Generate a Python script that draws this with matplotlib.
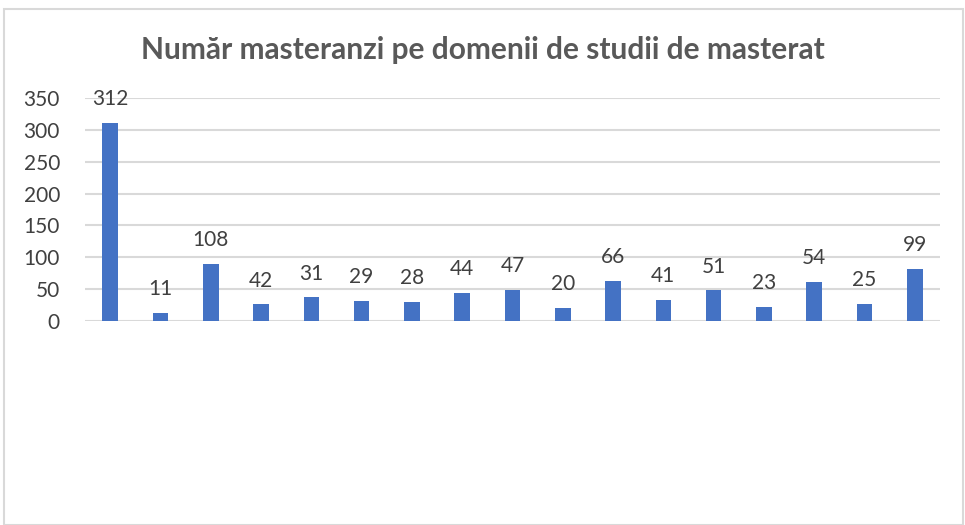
import matplotlib
matplotlib.use("Agg")
import matplotlib.pyplot as plt
from matplotlib.patches import Rectangle

categories = [f"D{i}" for i in range(1, 18)]
bar_values = [311, 13, 89, 26, 37, 32, 30, 44, 49, 21, 63, 33, 48, 22, 61, 27, 82]
label_values = [312, 11, 108, 42, 31, 29, 28, 44, 47, 20, 66, 41, 51, 23, 54, 25, 99]
yticks = [0, 50, 100, 150, 200, 250, 300, 350]
title = "Număr masteranzi pe domenii de studii de masterat"

plt.rcParams['font.family'] = ['Lato', 'DejaVu Sans']

W, H = 965, 525
fig = plt.figure(figsize=(W / 100, H / 100), dpi=100)
fig.patch.set_facecolor("white")

# outer chart border
fig.add_artist(Rectangle((4 / W, 0), (W - 6) / W, (H - 9) / H, transform=fig.transFigure,
                         fill=False, edgecolor="#d9d9d9", linewidth=1.5))

left, right = 85, 940
top, bottom = 98, 321
ax = fig.add_axes([left / W, 1 - bottom / H, (right - left) / W, (bottom - top) / H])
x = list(range(len(categories)))
ax.bar(x, bar_values, width=0.31, color="#4472c4", zorder=3)
ax.set_xlim(-0.5, len(categories) - 0.5)
ax.set_ylim(0, 350)
ax.set_yticks(yticks)
ax.set_yticklabels([str(t) for t in yticks], fontsize=15, color="#404040")
ax.set_xticks([])
ax.grid(axis="y", color="#d9d9d9", linewidth=1.5, zorder=0)
for s in ax.spines.values():
    s.set_visible(False)
ax.tick_params(axis="y", length=0, pad=18)

for xi, bv, lv in zip(x, bar_values, label_values):
    ax.annotate(str(lv), (xi, bv), xytext=(0, 10), textcoords="offset points",
                ha="center", va="bottom", fontsize=15, color="#404040")

fig.text(0.5, 1 - 50 / H, title, ha="center", va="center", fontsize=21.5,
         fontweight="bold", color="#595959")

fig.savefig("out.png", dpi=100)
